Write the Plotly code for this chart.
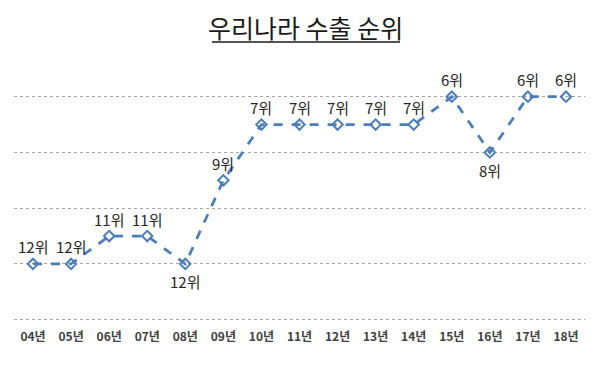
import plotly.graph_objects as go

years = ["04년", "05년", "06년", "07년", "08년", "09년", "10년", "11년", "12년",
         "13년", "14년", "15년", "16년", "17년", "18년"]
ranks = [12, 12, 11, 11, 12, 9, 7, 7, 7, 7, 7, 6, 8, 6, 6]
label_below = [False, False, False, False, True, False, False, False, False,
               False, False, False, True, False, False]
labels = [f"{r}위" for r in ranks]

FONT = "Noto Sans CJK KR"
OFF = 8  # default page body margin
W, H = 612 - OFF, 369 - OFF
UNIT = 27.9
Y_TOP, Y_BOT = 4, 14.3
L, T = 14 - OFF, 41 - OFF
PLOT_W, PLOT_H = 571, round((Y_BOT - Y_TOP) * UNIT)
R, B = W - L - PLOT_W, H - T - PLOT_H

fig = go.Figure()
fig.add_trace(go.Scatter(
    x=years, y=ranks, mode="lines+markers",
    line=dict(color="#4A7EBB", width=2.75, dash="dash"),
    marker=dict(symbol="diamond-open", size=8, color="#4A7EBB", line=dict(width=2)),
    cliponaxis=False, showlegend=False,
))

annotations = [dict(x=x, y=y, text=t, showarrow=False, xref="x", yref="y",
                    yshift=-18 if below else 17,
                    font=dict(family=FONT, size=15, color="#262626"))
               for x, y, t, below in zip(years, ranks, labels, label_below)]
annotations.append(dict(text="우리나라 수출 순위", xref="paper", yref="paper",
                        x=(305 - OFF - L) / PLOT_W, y=1 + 14 / PLOT_H,
                        xanchor="center", yanchor="middle", showarrow=False,
                        font=dict(family=FONT, size=25, color="#1a1a1a")))

fig.update_layout(
    width=W, height=H,
    margin=dict(l=L, r=R, t=T, b=B, autoexpand=False),
    paper_bgcolor="white", plot_bgcolor="white",
    font=dict(family=FONT),
    xaxis=dict(range=[-0.5, 14.5], showgrid=False, zeroline=False, showline=False, ticks="",
               tickfont=dict(family=FONT, size=12, color="#404040", weight="bold"),
               ticklabelstandoff=0, automargin=False),
    yaxis=dict(range=[Y_BOT, Y_TOP], tickvals=[6, 8, 10, 12, 14], showticklabels=False,
               showgrid=True, gridcolor="#A6A6A6", griddash="dot", gridwidth=1,
               zeroline=False, showline=False, automargin=False),
    annotations=annotations,
    shapes=[dict(type="line", xref="paper", yref="paper",
                 x0=(212 - OFF - L) / PLOT_W, x1=(400 - OFF - L) / PLOT_W,
                 y0=1.0 - 1 / PLOT_H, y1=1.0 - 1 / PLOT_H,
                 line=dict(color="#1a1a1a", width=1.5))],
)

fig.write_html("out.html")
